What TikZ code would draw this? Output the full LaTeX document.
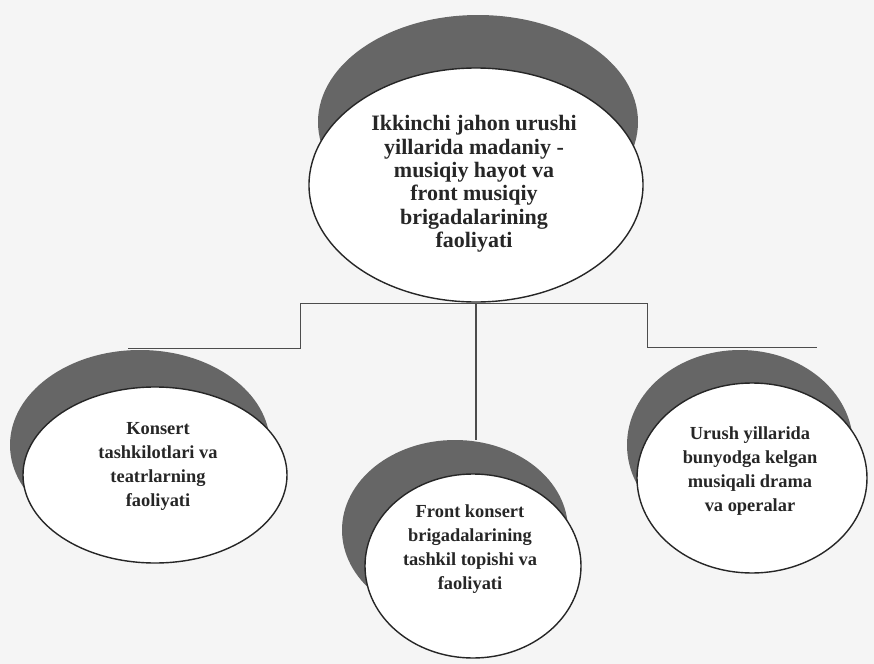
\documentclass[tikz,border=0pt]{standalone}
\usepackage{fontspec}
\setmainfont{Liberation Serif}
\usetikzlibrary{shapes.geometric}

\tikzset{
  disc/.style={ellipse, draw=black!85, line width=0.7pt, fill=white, inner sep=0pt},
  discshadow/.style={fill=black!60},
  toplbl/.style={align=center, font=\fontsize{11}{11.7}\selectfont\bfseries, text=black!85},
  lbl/.style={align=center, font=\fontsize{9.2}{12}\selectfont\bfseries, text=black!85},
  link/.style={draw=black!70, line width=0.5pt},
}

\begin{document}
\begin{tikzpicture}[x=0.5pt,y=-0.5pt]
\useasboundingbox[fill=black!4] (0,0) rectangle (874,664);

% shadows behind the discs
\fill[discshadow] (478,122) ellipse [x radius=160, y radius=107]; % top
\fill[discshadow] (140,445) ellipse [x radius=130, y radius=95]; % left
\fill[discshadow] (455,530) ellipse [x radius=113, y radius=90]; % middle
\fill[discshadow] (740,445) ellipse [x radius=113, y radius=95]; % right

% discs
\node[disc, minimum width=167pt, minimum height=117pt] (top) at (476,185) {};
\node[disc, minimum width=132pt, minimum height=88pt] (left) at (155,475) {};
\node[disc, minimum width=108pt, minimum height=92pt] (mid) at (473,566) {};
\node[disc, minimum width=115pt, minimum height=95pt] (right) at (752,478) {};

% texts
\node[toplbl] (toptext) at (474,184) {Ikkinchi jahon urushi\\yillarida madaniy -\\musiqiy hayot va\\front musiqiy\\brigadalarining\\faoliyati};
\node[lbl] (lefttext) at (158,466) {Konsert\\tashkilotlari va\\teatrlarning\\faoliyati};
\node[lbl] (midtext) at (470,549) {Front konsert\\brigadalarining\\tashkil topishi va\\faoliyati};
\node[lbl] (righttext) at (750,471) {Urush yillarida\\bunyodga kelgan\\musiqali drama\\va operalar};

% connectors
\coordinate (barL) at (300,303);
\coordinate (barR) at (647,303);
\coordinate (leftend) at (128,348);
\coordinate (rightend) at (817,347);
\coordinate (midtop) at (476,440);
\draw[link] (barL) -- (barR);
\draw[link] (barL) |- (leftend);
\draw[link] (barR) |- (rightend);
\draw[link, line width=1.3pt] (top.south) -- (midtop);
\end{tikzpicture}
\end{document}
